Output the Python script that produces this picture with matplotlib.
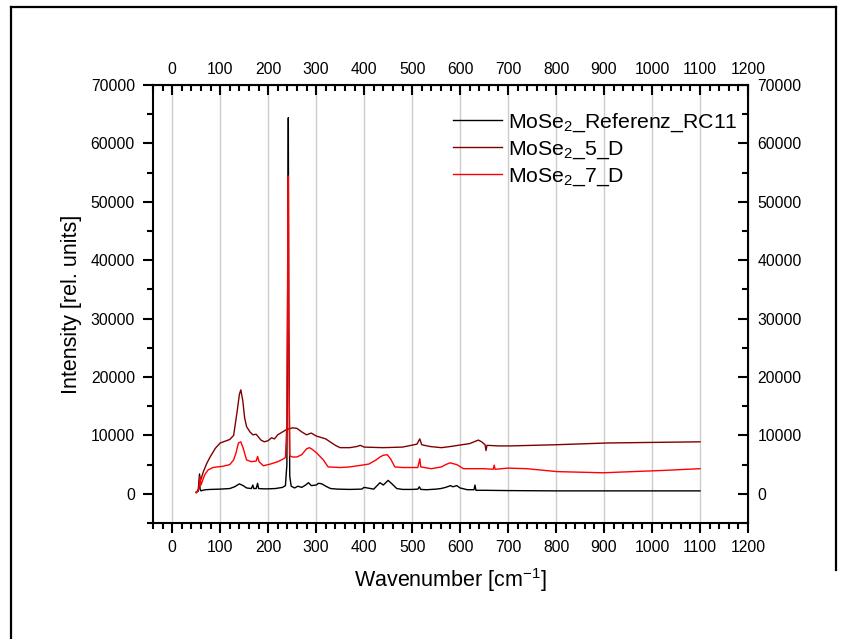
import numpy as np
import matplotlib
matplotlib.use('Agg')
import matplotlib.pyplot as plt
from matplotlib.ticker import MultipleLocator, FixedLocator
from matplotlib.lines import Line2D

plt.rcParams['font.family'] = ['Liberation Sans', 'DejaVu Sans']
plt.rcParams['mathtext.default'] = 'regular'

# (wavenumber, intensity) points
ref_rc11 = [(50, 300), (54, 400), (57, 3400), (58, 800), (60, 500), (63, 600), (70, 700),
            (80, 750), (100, 800), (120, 900), (130, 1200), (140, 1700), (148, 1400),
            (155, 1000), (165, 900), (168, 1500), (170, 900), (175, 900), (178, 1800),
            (180, 900), (190, 850), (200, 850), (215, 900), (230, 1100), (236, 1400),
            (239, 5000), (241, 40000), (242, 64400), (243, 30000), (245, 3000), (248, 1300),
            (255, 1000), (262, 1300), (270, 1100), (278, 1500), (284, 1900), (290, 1400),
            (300, 1500), (305, 1800), (312, 1700), (320, 1300), (330, 900), (345, 800),
            (370, 750), (395, 800), (400, 1100), (420, 800), (433, 1900), (440, 1500),
            (445, 1900), (450, 2300), (458, 1700), (468, 900), (480, 750), (500, 750),
            (512, 800), (515, 1200), (518, 750), (530, 700), (550, 800), (560, 900),
            (570, 1100), (580, 1400), (585, 1200), (593, 1400), (600, 1000), (615, 700),
            (629, 700), (631, 1500), (633, 600), (650, 600), (700, 550), (800, 500),
            (900, 500), (1000, 500), (1100, 500)]

mose2_5d = [(50, 200), (55, 800), (57, 2000), (60, 2500), (65, 3800), (72, 5200), (79, 6300),
            (90, 7800), (100, 8700), (110, 9000), (120, 9300), (128, 10000), (135, 13900),
            (140, 17000), (143, 17800), (147, 16000), (151, 13000), (155, 11500),
            (162, 10600), (168, 10100), (175, 10200), (185, 9200), (192, 8900), (200, 9100),
            (207, 9600), (213, 9400), (220, 10100), (230, 10600), (238, 11000), (251, 11300),
            (260, 11200), (270, 10600), (280, 10100), (290, 10400), (300, 9900), (312, 9600),
            (320, 9400), (329, 8900), (340, 8300), (350, 7900), (370, 7900), (385, 8100),
            (392, 8300), (400, 8000), (439, 7900), (480, 8000), (510, 8500), (516, 9400),
            (520, 8400), (537, 8100), (561, 7900), (580, 8100), (604, 8400), (620, 8600),
            (632, 9000), (638, 9200), (645, 8900), (652, 8400), (654, 7400), (656, 8300),
            (680, 8200), (704, 8200), (800, 8400), (906, 8700), (1000, 8800), (1100, 8900)]

mose2_7d = [(50, 200), (55, 600), (58, 3000), (60, 1500), (63, 2200), (68, 3300), (75, 4100),
            (85, 4500), (93, 4600), (105, 4700), (120, 5000), (128, 5800), (133, 7000),
            (138, 8700), (143, 8900), (148, 7800), (155, 5800), (165, 5500), (175, 5600),
            (178, 6400), (181, 5500), (190, 4800), (205, 5100), (220, 5500), (230, 5900),
            (236, 6200), (239, 12000), (241, 45000), (242, 54400), (243, 25000), (245, 6500),
            (251, 6300), (260, 6300), (270, 6700), (280, 7700), (286, 7900), (292, 7600),
            (301, 7000), (315, 5800), (325, 4600), (350, 4500), (370, 4600), (395, 4900),
            (410, 5100), (425, 5800), (433, 6300), (440, 6600), (448, 6700), (455, 6000),
            (464, 4600), (480, 4500), (512, 4500), (516, 6000), (518, 4600), (540, 4300),
            (561, 4600), (570, 5000), (579, 5300), (593, 5000), (607, 4300), (650, 4300),
            (669, 4200), (671, 4900), (673, 4200), (700, 4400), (739, 4300), (802, 3800),
            (898, 3600), (960, 3800), (1023, 4000), (1100, 4300)]

labels = [r'MoSe$_2$_Referenz_RC11', r'MoSe$_2$_5_D', r'MoSe$_2$_7_D']
colors = ['black', '#800000', 'red']
series = [ref_rc11, mose2_5d, mose2_7d]
x_ticks = list(range(0, 1300, 100))
y_ticks = list(range(0, 80000, 10000))

fig = plt.figure(figsize=(8.43, 6.39), dpi=100)
ax = fig.add_axes([153 / 843, 1 - 523 / 639, 595 / 843, 438 / 639])

# page frame
for xs, ys in [([11, 11], [7, 639]), ([11, 836], [7, 7]), ([836, 836], [7, 570])]:
    fig.add_artist(Line2D(np.array(xs) / 843, 1 - np.array(ys) / 639, color='black', lw=1.6))

for xs in x_ticks[:-1]:
    ax.axvline(xs, color='#cccccc', lw=1, zorder=0)

for pts, col, lab in zip(series, colors, labels):
    d = np.array(pts)
    ax.plot(d[:, 0], d[:, 1], color=col, lw=1, label=lab)

ax.set_xlim(-40, 1200)
ax.set_ylim(-5000, 70000)
ax.xaxis.set_major_locator(FixedLocator(x_ticks))
ax.xaxis.set_minor_locator(MultipleLocator(20))
ax.yaxis.set_major_locator(FixedLocator(y_ticks))
ax.yaxis.set_minor_locator(MultipleLocator(5000))
for s in ax.spines.values():
    s.set_linewidth(1.5)
ax.tick_params(which='major', direction='out', length=7, width=1.5, labelsize=11.3)
ax.tick_params(which='minor', direction='out', length=4, width=1.5)
ax.tick_params(axis='x', pad=5)
ax.tick_params(axis='y', pad=6)

top = ax.secondary_xaxis('top')
top.xaxis.set_major_locator(FixedLocator(x_ticks))
top.xaxis.set_minor_locator(MultipleLocator(20))
top.tick_params(which='major', direction='in', length=7, width=1.5, labelsize=11.3, pad=6)
top.tick_params(which='minor', direction='in', length=4, width=1.5)

right = ax.secondary_yaxis('right')
right.yaxis.set_major_locator(FixedLocator(y_ticks))
right.yaxis.set_minor_locator(MultipleLocator(5000))
right.tick_params(which='major', direction='in', length=7, width=1.5, labelsize=11.3, pad=7)
right.tick_params(which='minor', direction='in', length=4, width=1.5)

ax.set_xlabel(r'Wavenumber [cm$^{-1}$]', fontsize=15.5, labelpad=8)
ax.set_ylabel('Intensity [rel. units]', fontsize=15.5, labelpad=6)

ax.legend(loc='upper left', bbox_to_anchor=(0.504, 0.94), frameon=False,
          fontsize=15.3, handlelength=2.3, handletextpad=0.28, labelspacing=0.26,
          borderaxespad=0, borderpad=0)

fig.savefig('out.png', dpi=100)
